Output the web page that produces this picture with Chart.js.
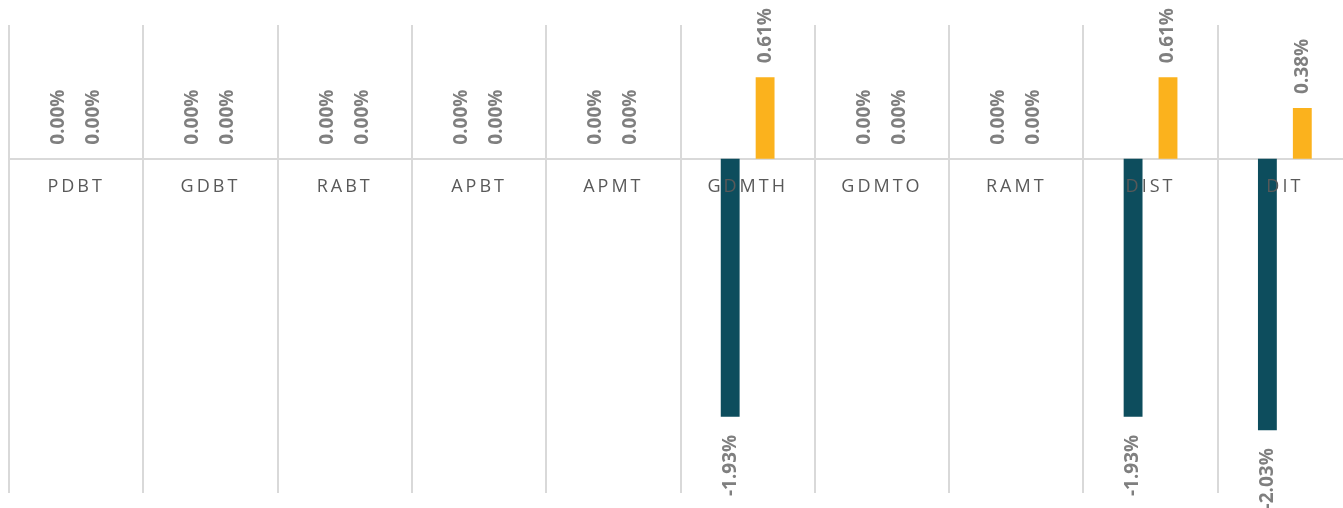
<!DOCTYPE html>
<html>
<head>
<meta charset="utf-8">
<script src="https://cdn.jsdelivr.net/npm/chart.js@4"></script>
<style>
  html, body { margin: 0; padding: 0; background: #fff; overflow: hidden; }
  #wrap { width: 1361px; height: 508px; position: relative; }
</style>
</head>
<body>
<div id="wrap"><canvas id="bar_chart"></canvas></div>
<script>
var categories = ["PDBT", "GDBT", "RABT", "APBT", "APMT", "GDMTH", "GDMTO", "RAMT", "DIST", "DIT"];
var seriesA = [0, 0, 0, 0, 0, -1.93, 0, 0, -1.93, -2.03];
var seriesB = [0, 0, 0, 0, 0, 0.61, 0, 0, 0.61, 0.38];

// rotated value labels on each bar
var valueLabels = {
  id: "valueLabels",
  beforeDraw: function (chart) {
    chart.ctx.letterSpacing = "3px";
  },
  afterDraw: function (chart) {
    var ctx = chart.ctx;
    ctx.save();
    ctx.letterSpacing = "0px";
    ctx.font = "bold 19px 'Open Sans'";
    ctx.fillStyle = "#7f7f7f";
    ctx.textBaseline = "middle";
    chart.data.datasets.forEach(function (ds, i) {
      var meta = chart.getDatasetMeta(i);
      meta.data.forEach(function (bar, j) {
        var v = ds.data[j];
        var txt = v.toFixed(2) + "%";
        ctx.save();
        ctx.translate(bar.x, v >= 0 ? bar.y - 14 : bar.y + 18);
        ctx.rotate(-Math.PI / 2);
        ctx.textAlign = v >= 0 ? "left" : "right";
        ctx.fillText(txt, 0, 0);
        ctx.restore();
      });
    });
    ctx.letterSpacing = "3px";
    ctx.restore();
  }
};

var ctx = document.getElementById("bar_chart").getContext("2d");
var myChart = new Chart(ctx, {
  type: "bar",
  data: {
    labels: categories,
    datasets: [
      {
        label: "A",
        data: seriesA,
        backgroundColor: "#0d4d5d",
        categoryPercentage: 0.52,
        barPercentage: 0.54,
      },
      {
        label: "B",
        data: seriesB,
        backgroundColor: "#fbb21d",
        categoryPercentage: 0.52,
        barPercentage: 0.54,
      },
    ],
  },
  options: {
    responsive: true,
    maintainAspectRatio: false,
    animation: false,
    layout: { padding: { left: 9, right: 9, top: 25, bottom: 15 } },
    plugins: { legend: { display: false }, tooltip: { enabled: false } },
    scales: {
      x: {
        position: { y: 0 },
        grid: { offset: true, color: "#d9d9d9", lineWidth: 2, drawTicks: false },
        border: { display: true, color: "#d9d9d9", width: 2 },
        ticks: {
          z: 1,
          color: "#595959",
          padding: 17,
          maxRotation: 0,
          font: { family: "Open Sans", size: 18 },
        },
      },
      y: {
        display: false,
        min: -2.5,
        max: 1.0,
      },
    },
  },
  plugins: [valueLabels],
});
</script>
</body>
</html>
